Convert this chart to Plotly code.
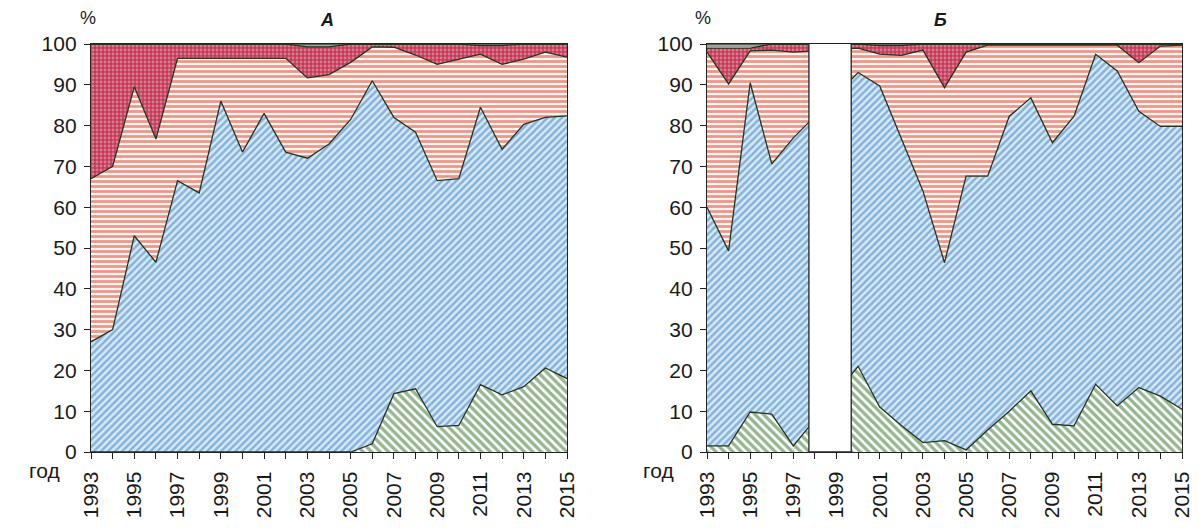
import plotly.graph_objects as go

# ---------------- data (cumulative upper boundaries of each layer, %) ----------------
years_A = list(range(1993, 2016))
green_A = [0, 0, 0, 0, 0, 0, 0, 0, 0, 0, 0, 0, 0, 2, 14.3, 15.5, 6.2, 6.5, 16.5, 14, 16, 20.6, 18]
blue_A = [27, 30, 53, 46.5, 66.5, 63.5, 86, 73.5, 83, 73.5, 72, 75.5, 81.5, 91, 82, 78.4, 66.5, 67, 84.5, 74.2, 80.3, 82, 82.4]
brick_A = [67, 70, 89.5, 76.7, 96.5, 96.5, 96.5, 96.5, 96.5, 96.5, 91.7, 92.5, 95.5, 99.3, 99.2, 97.3, 95, 96.3, 97.5, 95, 96.3, 98, 96.8]
dots_A = [100, 100, 100, 100, 100, 100, 100, 100, 100, 100, 99.3, 99.3, 100, 100, 100, 100, 100, 100, 99.6, 99.6, 100, 100, 100]
top_A = [100] * len(years_A)

years_B = [1993, 1994, 1995, 1996, 1997, 2000, 2001, 2002, 2003, 2004, 2005, 2006,
           2007, 2008, 2009, 2010, 2011, 2012, 2013, 2014, 2015]
green_B = [1.5, 1.5, 9.8, 9.3, 1.5, 21, 11, 6.5, 2.3, 2.8, 0.5, 5.4, 10, 15, 6.8, 6.4, 16.6, 11.3, 15.8, 13.7, 10.5]
blue_B = [60, 49.3, 90.5, 70.6, 77, 93, 89.7, 77, 64, 46.4, 67.6, 67.6, 82.3, 86.8, 75.8, 82.3, 97.5, 93.4, 83.5, 79.8, 79.8]
brick_B = [98, 90.2, 98.3, 98.5, 98, 99, 97.5, 97.2, 98.5, 89.3, 98, 99.7, 99.7, 99.7, 99.7, 99.7, 99.7, 99.7, 95.4, 99.5, 99.7]
dots_B = [99, 99, 99, 100, 100, 100, 99.6, 99.6, 100, 100, 100, 100, 100, 100, 100, 100, 100, 100, 100, 100, 100]
top_B = [100] * len(years_B)

gap_B = (1997.72, 1999.68)   # blanked-out (missing) years in panel Б

tick_years = list(range(1993, 2016))
tick_text = [str(y) if y % 2 == 1 else "" for y in tick_years]

# ---------------- styles ----------------
LINE = "#26331f"
FONT = "Arial, Liberation Sans, sans-serif"
layers = [
    dict(shape="\\", fg="#2a6c1e", bg="#ffffff", size=6, sol=0.55),
    dict(shape="/", fg="#3a78c2", bg="#d4eaf7", size=5, sol=0.5),
    dict(shape="-", fg="#d6381f", bg="#fff4f0", size=5, sol=0.55),
    dict(shape=".", fg="#f0c0ca", bg="#c43b58", size=4, sol=0.4),
    dict(shape="-", fg="#111111", bg="#ffffff", size=4, sol=0.4),
]

fig = go.Figure()


def add_panel(x, series, xa, ya):
    for i, (y, st) in enumerate(zip(series, layers)):
        fig.add_trace(go.Scatter(
            x=x, y=y, mode="lines", xaxis=xa, yaxis=ya,
            line=dict(color=LINE, width=1.3),
            fill="tozeroy" if i == 0 else "tonexty",
            fillcolor=st["bg"],
            fillpattern=dict(shape=st["shape"], fgcolor=st["fg"], bgcolor=st["bg"],
                             size=st["size"], solidity=st["sol"]),
            hoverinfo="skip", showlegend=False))


add_panel(years_A, [green_A, blue_A, brick_A, dots_A, top_A], "x", "y")
add_panel(years_B, [green_B, blue_B, brick_B, dots_B, top_B], "x2", "y2")

# page body has an 8px margin: figure is placed at (8, 8)
OFF = 8
W, H = 1185, 512


def px(v):
    return (v - OFF) / W


def py(v):
    return 1 - (v - OFF) / H


xaxis_common = dict(
    range=[1993, 2015], tickmode="array", tickvals=tick_years, ticktext=tick_text,
    tickangle=-90, ticks="outside", ticklen=6, tickcolor="#222", tickwidth=1,
    ticklabelstandoff=4, ticklabeloverflow="allow",
    showline=True, linecolor="#222", linewidth=1.3, mirror=True,
    showgrid=False, zeroline=False, automargin=False,
    tickfont=dict(family=FONT, size=21, color="#1a1a1a"),
)
yaxis_common = dict(
    range=[0, 100], tickmode="linear", tick0=0, dtick=10,
    ticks="outside", ticklen=6, tickcolor="#222", tickwidth=1,
    ticklabelstandoff=3, ticklabeloverflow="allow",
    showline=True, linecolor="#222", linewidth=1.3, mirror=True,
    showgrid=False, zeroline=False, automargin=False,
    tickfont=dict(family=FONT, size=21, color="#1a1a1a"),
)

fig.update_layout(
    width=W, height=H, margin=dict(l=0, r=0, t=0, b=0, pad=0),
    paper_bgcolor="white", plot_bgcolor="white",
    xaxis=dict(domain=[px(91), px(567)], anchor="y", **xaxis_common),
    yaxis=dict(domain=[py(452), py(44)], anchor="x", **yaxis_common),
    xaxis2=dict(domain=[px(707), px(1182)], anchor="y2", **xaxis_common),
    yaxis2=dict(domain=[py(452), py(44)], anchor="x2", **yaxis_common),
)

# blanked gap in panel Б
fig.add_shape(type="rect", xref="x2", yref="y2", x0=gap_B[0], x1=gap_B[1], y0=0, y1=100.6,
              fillcolor="white", line=dict(width=0), layer="above")
for gx in gap_B:
    fig.add_shape(type="line", xref="x2", yref="y2", x0=gx, x1=gx, y0=0, y1=100,
                  line=dict(color="#222", width=1.3), layer="above")
fig.add_shape(type="line", xref="x2", yref="y2", x0=gap_B[0], x1=gap_B[1], y0=0, y1=0,
              line=dict(color="#222", width=1.3), layer="above")

ann = [
    ("%", 88, 18, 18), ("%", 703, 18, 18),
    ("<b><i>А</i></b>", 327, 20, 18), ("<b><i>Б</i></b>", 940, 20, 18),
    ("год", 44, 470, 21), ("год", 658, 470, 21),
]
for text, x, y, size in ann:
    fig.add_annotation(text=text, x=px(x), y=py(y), xref="paper", yref="paper",
                       showarrow=False, xanchor="center", yanchor="middle",
                       font=dict(family=FONT, size=size, color="#1a1a1a"))

fig.write_html("out.html")
